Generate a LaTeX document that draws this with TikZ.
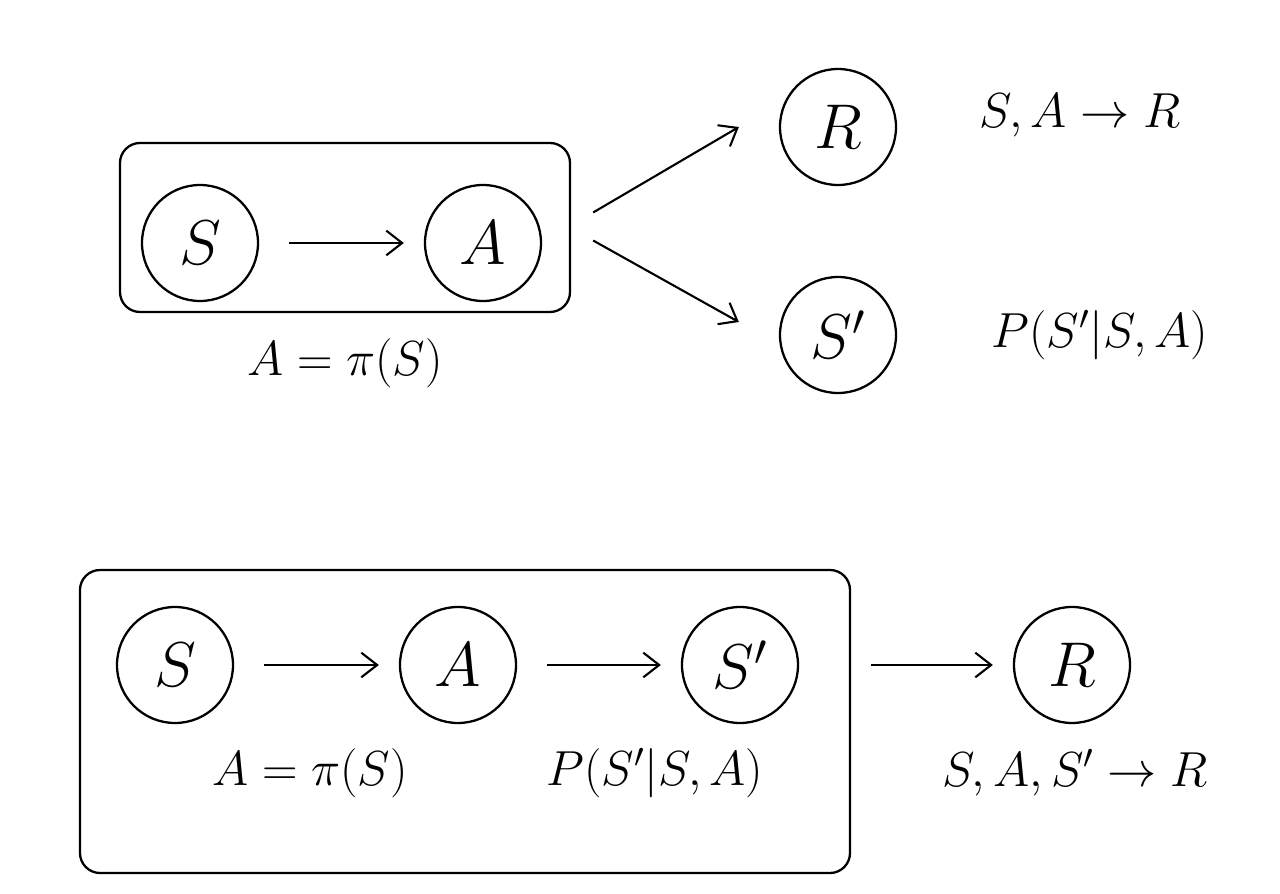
\RequirePackage{fix-cm}
\documentclass[tikz,border=0pt]{standalone}
\usepackage{amsmath}
\usetikzlibrary{arrows.meta,fit,positioning}
\tikzset{
  var/.style={circle,draw,line width=1.3pt,minimum size=2.32cm,inner sep=0pt,font=\fontsize{36}{40}\selectfont},
  lab/.style={inner sep=0pt,font=\fontsize{28}{32}\selectfont},
  arr/.style={line width=1.2pt,-{Straight Barb[length=9pt,width=14pt,line width=1.2pt]}},
  box/.style={draw,line width=1.3pt,rounded corners=0.4cm}
}
\begin{document}
\begin{tikzpicture}
%
\useasboundingbox (0,0) rectangle (25.6cm,17.86cm);
%
% top picture
\node[var] (s1) at (4.0,13.0) {$S$};
\node[var] (a1) at (9.66,13.0) {$A$};
\node[var] (r1) at (16.76,15.32) {$R$};
\node[var] (sp1) at (16.76,11.16) {$S'$};
\node[box,fit={(2.4,11.62) (11.4,15.0)},inner sep=0pt] (box1) {};
\node[lab] (pi1) at (6.9,10.6) {$A=\pi(S)$};
\node[lab] (rew1) at (21.6,15.56) {$S,A\to R$};
\node[lab] (tr1) at (22.0,11.16) {$P(S'|S,A)$};
%
\draw[arr,shorten <=0.6cm,shorten >=0.4cm] (s1) -- (a1);
\draw[arr] ([xshift=0.44cm,yshift=0.3cm]box1.east) -- ([xshift=-0.8cm]r1.west);
\draw[arr] ([xshift=0.44cm,yshift=-0.26cm]box1.east) -- ([xshift=-0.8cm,yshift=0.26cm]sp1.west);
%
% bottom picture
\node[var] (s2) at (3.5,4.56) {$S$};
\node[var] (a2) at (9.16,4.56) {$A$};
\node[var] (sp2) at (14.8,4.56) {$S'$};
\node[var] (r2) at (21.44,4.56) {$R$};
\node[box,fit={(1.6,0.4) (17.0,6.46)},inner sep=0pt] (box2) {};
\node[lab] (pi2) at (6.2,2.4) {$A=\pi(S)$};
\node[lab] (tr2) at (13.1,2.4) {$P(S'|S,A)$};
\node[lab] (rew2) at (21.5,2.4) {$S,A,S'\to R$};
%
\draw[arr,shorten <=0.6cm,shorten >=0.4cm] (s2) -- (a2);
\draw[arr,shorten <=0.6cm,shorten >=0.4cm] (a2) -- (sp2);
\draw[arr,shorten <=0.4cm,shorten >=0.4cm] (box2.east |- r2) -- (r2);
%
\end{tikzpicture}
\end{document}
